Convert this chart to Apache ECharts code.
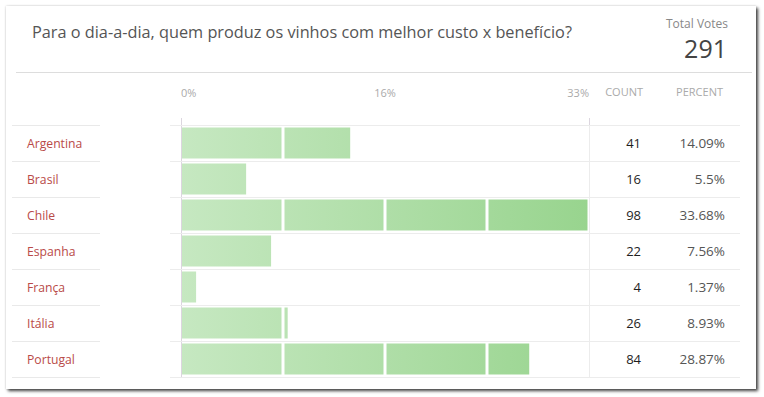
<!DOCTYPE html>
<html>
<head>
<meta charset="utf-8">
<script src="https://cdn.jsdelivr.net/npm/echarts@6/dist/echarts.min.js"></script>
<style>
  html, body { margin: 0; padding: 0; background: #ffffff; }
  #card { position: absolute; left: 6px; top: 6px; width: 750px; height: 383px; background: #fff;
          box-shadow: 2px 2px 3px rgba(0,0,0,0.75), 0 0 2px rgba(0,0,0,0.18); }
  #chart { position: absolute; left: 0; top: 0; width: 764px; height: 397px; }
</style>
</head>
<body>
<div id="card"></div>
<div id="chart"></div>
<script>
const questionTitle = 'Para o dia-a-dia, quem produz os vinhos com melhor custo x benefício?';
const totalVotes = 291;
const categories = ['Argentina', 'Brasil', 'Chile', 'Espanha', 'França', 'Itália', 'Portugal'];
const counts = [41, 16, 98, 22, 4, 26, 84];
const percents = [14.09, 5.5, 33.68, 7.56, 1.37, 8.93, 28.87];
const percentLabels = ['14.09%', '5.5%', '33.68%', '7.56%', '1.37%', '8.93%', '28.87%'];
const tickLabels = ['0%', '16%', '33%'];
const columnHeaders = ['COUNT', 'PERCENT'];

const FONT = '"Open Sans", "DejaVu Sans", sans-serif';
const axisMax = Math.max.apply(null, percents);
const step = axisMax / 4;
const tickValues = [0, axisMax / 2, axisMax];

const chart = echarts.init(document.getElementById('chart'), null, { renderer: 'svg' });

function renderRow(params, api) {
  const v = api.value(0);
  const cat = api.value(1);
  const center = api.coord([0, cat]);
  const band = api.size([0, 1])[1];
  const cy = center[1];
  const h = band - 5;
  const gx0 = api.coord([0, cat])[0];
  const gx1 = api.coord([axisMax, cat])[0];
  const grad = new echarts.graphic.LinearGradient(gx0, 0, gx1, 0, [
    { offset: 0, color: '#c6e8c1' },
    { offset: 1, color: '#98d48e' }
  ], true);
  const children = [];
  const topY = Math.round(cy - band / 2) + 0.5;
  const lines = [topY];
  if (params.dataIndex === categories.length - 1) lines.push(Math.round(cy + band / 2) + 0.5);
  lines.forEach(function (y) {
    children.push({ type: 'line', shape: { x1: 12, y1: y, x2: 100, y2: y }, style: { stroke: '#e9e9e9', lineWidth: 1 }, z2: 1 });
    children.push({ type: 'line', shape: { x1: 170, y1: y, x2: 740, y2: y }, style: { stroke: '#ececec', lineWidth: 1 }, z2: 1 });
  });
  for (let k = 0; k < 4; k++) {
    const s = k * step;
    if (s >= v) break;
    const e = Math.min(v, (k + 1) * step);
    const x0 = api.coord([s, cat])[0] + (k === 0 ? 1 : 1.5);
    const x1 = api.coord([e, cat])[0] - 1.5;
    if (x1 <= x0) continue;
    children.push({
      type: 'rect',
      shape: { x: x0, y: cy - h / 2, width: x1 - x0, height: h },
      style: { fill: grad },
      z2: 5
    });
  }
  children.push({
    type: 'text', x: 641, y: cy,
    style: { text: String(counts[params.dataIndex]), align: 'right', verticalAlign: 'middle',
             fill: '#1e1e1e', font: '13px ' + FONT }
  });
  children.push({
    type: 'text', x: 725, y: cy,
    style: { text: percentLabels[params.dataIndex], align: 'right', verticalAlign: 'middle',
             fill: '#555', font: '13.5px ' + FONT }
  });
  return { type: 'group', children: children };
}

const option = {
  animation: false,
  grid: { left: 181, right: 175, top: 125, height: 252, containLabel: false },
  xAxis: {
    type: 'value', position: 'top', min: 0, max: axisMax, interval: step,
    axisLine: { show: false },
    axisTick: { show: true, length: 7, customValues: [0, axisMax], lineStyle: { color: '#dcd6df' } },
    axisLabel: {
      customValues: tickValues,
      formatter: function (val) {
        let best = 0;
        tickValues.forEach(function (t, i) { if (Math.abs(t - val) < Math.abs(tickValues[best] - val)) best = i; });
        return tickLabels[best];
      },
      alignMinLabel: 'left', alignMaxLabel: 'right',
      margin: 27, color: '#aaa', fontSize: 11, fontFamily: FONT
    },
    splitLine: { show: true, lineStyle: { color: '#ececec', width: 1 } }
  },
  yAxis: {
    type: 'category', data: categories, inverse: true,
    axisLine: { show: true, lineStyle: { color: '#dcd6df' } },
    axisTick: { show: false },
    splitLine: { show: false },
    axisLabel: { align: 'left', margin: 154, color: '#b94a48', fontSize: 12.2, fontFamily: FONT }
  },
  series: [{
    type: 'custom',
    renderItem: renderRow,
    encode: { x: 0, y: 1 },
    data: percents.map(function (p, i) { return [p, i]; }),
    clip: false
  }],
  graphic: [
    { type: 'text', left: 32, top: 24, style: { text: questionTitle, fill: '#555', font: '16.3px ' + FONT } },
    { type: 'text', right: 36, top: 16, style: { text: 'Total Votes', fill: '#888', font: '12px ' + FONT, lineHeight: 14 } },
    { type: 'text', right: 37, top: 35, style: { text: String(totalVotes), fill: '#444', font: '25px ' + FONT, lineHeight: 25 } },
    { type: 'line', shape: { x1: 16, y1: 72.5, x2: 752, y2: 72.5 }, style: { stroke: '#dddddd', lineWidth: 1 } },
    { type: 'text', right: 121, top: 86, style: { text: columnHeaders[0], fill: '#aaa', font: '11px ' + FONT } },
    { type: 'text', right: 41, top: 86, style: { text: columnHeaders[1], fill: '#aaa', font: '11px ' + FONT } }
  ]
};
chart.setOption(option);
</script>
</body>
</html>
